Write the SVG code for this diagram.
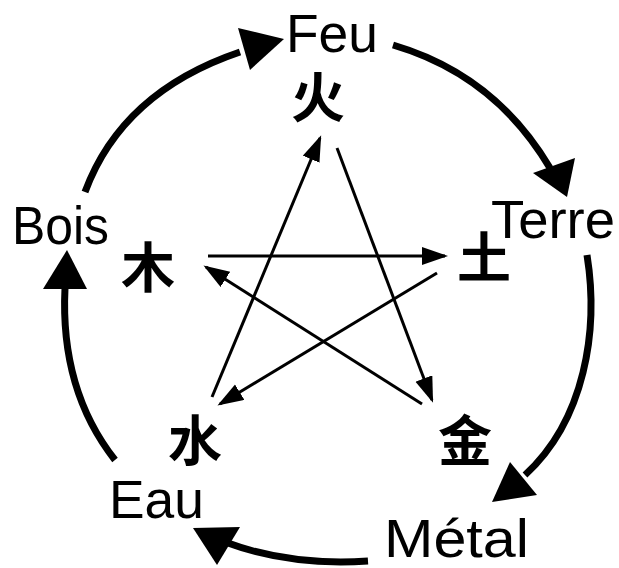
<svg xmlns="http://www.w3.org/2000/svg" width="619" height="568" viewBox="0 0 619 568">
<style>
.lat{font-family:"Liberation Sans","DejaVu Sans",sans-serif;font-size:54px;fill:#000}
.cjk{font-family:"Noto Sans CJK SC","Noto Sans CJK JP",sans-serif;font-size:54px;font-weight:700;fill:#000;text-anchor:middle}
.arc{fill:none;stroke:#000;stroke-width:7}
.star{fill:none;stroke:#000;stroke-width:3;marker-end:url(#ah)}
.head{fill:#000}
</style>
<defs>
<marker id="ah" markerUnits="userSpaceOnUse" markerWidth="30" markerHeight="20" refX="23" refY="9" orient="auto">
<path d="M0,0 L26,9 L0,18 z" fill="#000"/>
</marker>
</defs>
<rect width="619" height="568" fill="#fff"/>
<g id="connectors">
<path class="arc" d="M85,192 Q122,92 240,52"/>
<polygon class="head" points="238,28 284,39 250,70"/>
<path class="arc" d="M393,45 Q495,75 550,168"/>
<polygon class="head" points="533,173 575,158 567,197"/>
<path class="arc" d="M587,255 C599,330 585,420 525,475"/>
<polygon class="head" points="510,462 537,495 492,502"/>
<path class="arc" d="M368,561 Q290,566 228,543"/>
<polygon class="head" points="193,528 240,527 217,565"/>
<path class="arc" d="M115,460 Q60,390 65,288"/>
<polygon class="head" points="67,250 43,289 87,289"/>
<line class="star" x1="212" y1="397" x2="320" y2="138"/>
<line class="star" x1="337" y1="148" x2="432" y2="400"/>
<line class="star" x1="208" y1="256" x2="445" y2="256"/>
<line class="star" x1="437" y1="273" x2="220" y2="404"/>
<line class="star" x1="422" y1="404" x2="206" y2="267"/>
</g>
<g id="feu">
<text class="lat" x="286" y="52" textLength="92" lengthAdjust="spacingAndGlyphs">Feu</text>
<text class="cjk" x="318" y="118">火</text>
</g>
<g id="terre">
<text class="lat" x="491" y="238" textLength="124" lengthAdjust="spacingAndGlyphs">Terre</text>
<text class="cjk" x="484" y="278">土</text>
</g>
<g id="metal">
<text class="lat" x="384" y="557" textLength="145" lengthAdjust="spacingAndGlyphs">Métal</text>
<text class="cjk" x="465" y="461">金</text>
</g>
<g id="eau">
<text class="lat" x="109" y="518" textLength="95" lengthAdjust="spacingAndGlyphs">Eau</text>
<text class="cjk" x="195" y="461">水</text>
</g>
<g id="bois">
<text class="lat" x="12" y="244" textLength="97" lengthAdjust="spacingAndGlyphs">Bois</text>
<text class="cjk" x="148" y="288">木</text>
</g>
</svg>
